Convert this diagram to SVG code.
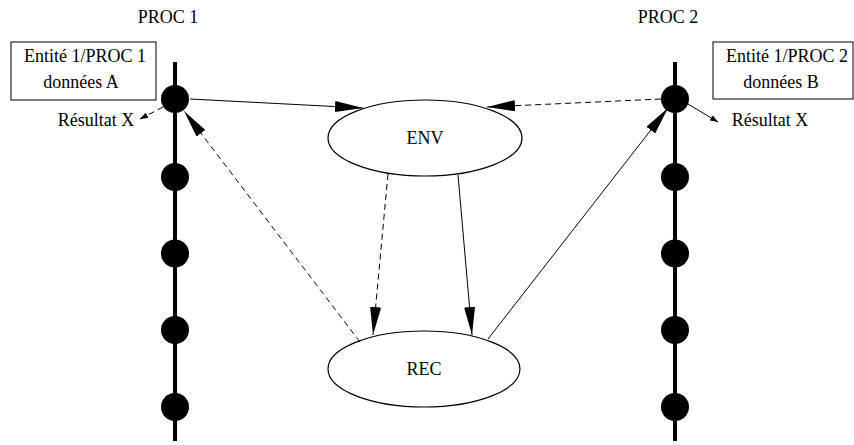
<svg xmlns="http://www.w3.org/2000/svg" width="854" height="445" viewBox="0 0 854 445">
<style>
text{font-family:"Liberation Serif","Times New Roman",serif;font-size:18px;fill:#000}
.c{text-anchor:middle}
.proc{stroke:#000;stroke-width:4}
.dot{fill:#000}
.box{fill:#fff;stroke:#000;stroke-width:1}
.node{fill:#fff;stroke:#000;stroke-width:1.2}
.e{fill:none;stroke:#000;stroke-width:1}
.d{stroke-dasharray:6,4}
</style>
<defs>
<marker id="big" markerUnits="userSpaceOnUse" viewBox="0 0 28 11" refX="28" refY="5.5" markerWidth="28" markerHeight="11" orient="auto"><path d="M0,0 L28,5.5 L0,11 Z" fill="#000"/></marker>
<marker id="small" markerUnits="userSpaceOnUse" viewBox="0 0 8 6" refX="8" refY="3" markerWidth="8" markerHeight="6" orient="auto"><path d="M0,0 L8,3 L0,6 Z" fill="#000"/></marker>
</defs>
<text class="c" x="168" y="23">PROC 1</text>
<text class="c" x="668" y="23">PROC 2</text>
<g id="proc1">
<line class="proc" x1="175" y1="62" x2="175" y2="441"/>
<circle class="dot" cx="175" cy="99" r="14"/>
<circle class="dot" cx="175" cy="177" r="14"/>
<circle class="dot" cx="175" cy="253.5" r="14"/>
<circle class="dot" cx="175" cy="330" r="14"/>
<circle class="dot" cx="175" cy="407" r="14"/>
</g>
<g id="proc2">
<line class="proc" x1="675" y1="62" x2="675" y2="441"/>
<circle class="dot" cx="675" cy="99" r="14"/>
<circle class="dot" cx="675" cy="177" r="14"/>
<circle class="dot" cx="675" cy="253.5" r="14"/>
<circle class="dot" cx="675" cy="330" r="14"/>
<circle class="dot" cx="675" cy="407" r="14"/>
</g>
<g id="entite1">
<rect class="box" x="11" y="42" width="145" height="58"/>
<text class="c" x="85" y="62">Entité 1/PROC 1</text>
<text class="c" x="81" y="88">données A</text>
</g>
<g id="entite2">
<rect class="box" x="713" y="42" width="140" height="57"/>
<text class="c" x="787" y="62">Entité 1/PROC 2</text>
<text class="c" x="781" y="88">données B</text>
</g>
<g id="env">
<ellipse class="node" cx="425" cy="138" rx="97" ry="38"/>
<text class="c" x="425" y="144">ENV</text>
</g>
<g id="rec">
<ellipse class="node" cx="424" cy="369" rx="96" ry="38"/>
<text class="c" x="424" y="375">REC</text>
</g>
<g id="resx1"><text class="c" x="96" y="126">Résultat X</text></g>
<g id="resx2"><text class="c" x="770" y="126">Résultat X</text></g>
<g id="connectors">
<line class="e" x1="190" y1="99" x2="363" y2="108" marker-end="url(#big)"/>
<line class="e d" x1="661" y1="99" x2="487" y2="107" marker-end="url(#big)"/>
<line class="e d" x1="163" y1="107" x2="140" y2="119" marker-end="url(#small)"/>
<line class="e" x1="688" y1="104" x2="718" y2="122" marker-end="url(#small)"/>
<line class="e d" x1="360" y1="342" x2="184" y2="111" marker-end="url(#big)"/>
<line class="e" x1="488" y1="339" x2="668" y2="108" marker-end="url(#big)"/>
<line class="e d" x1="388" y1="174" x2="373" y2="335" marker-end="url(#big)"/>
<line class="e" x1="458" y1="175" x2="472" y2="335" marker-end="url(#big)"/>
</g>
</svg>
